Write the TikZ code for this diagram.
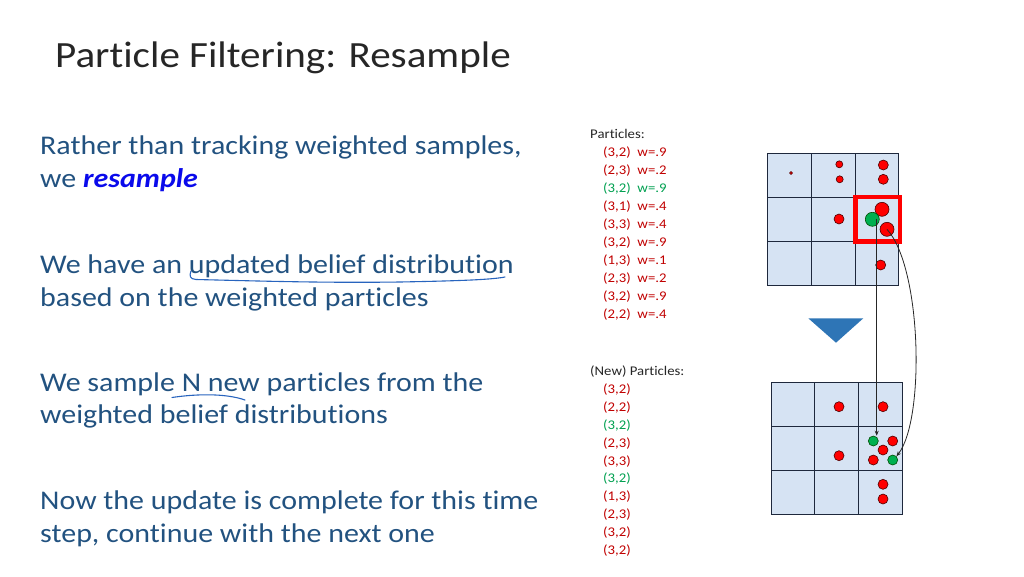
\documentclass[tikz,border=0pt]{standalone}
\usepackage{fontspec}
\setmainfont{Carlito}[FakeStretch=1.11,Ligatures=NoCommon]
\usetikzlibrary{arrows.meta}
\definecolor{bodyblue}{RGB}{34,82,128}
\definecolor{resblue}{RGB}{10,10,235}
\definecolor{darkred}{RGB}{192,0,0}
\definecolor{pgreen}{RGB}{0,176,80}
\definecolor{tgreen}{RGB}{0,160,80}
\definecolor{cellfill}{RGB}{214,227,243}
\definecolor{gridline}{RGB}{30,40,60}
\definecolor{triblue}{RGB}{46,117,182}
\definecolor{penblue}{RGB}{40,100,190}
\tikzset{
  body/.style={anchor=base west, inner sep=0pt, text=bodyblue, font=\fontsize{27}{32}\selectfont},
  small/.style={anchor=base west, inner sep=0pt, font=\fontsize{13.3}{15}\selectfont},
  grid cell/.style={draw=gridline, fill=cellfill, line width=0.9pt},
  rdot/.style={circle, draw=black!70!red, line width=0.6pt, fill=red, inner sep=0pt, minimum size=#1},
  gdot/.style={circle, draw=black!70!green, line width=0.6pt, fill=pgreen, inner sep=0pt, minimum size=#1},
  conn/.style={black!85, line width=0.8pt, -{Stealth[length=5pt,width=4pt]}},
  pen/.style={penblue, line width=1.1pt, line cap=round}
}
\begin{document}
\begin{tikzpicture}[x=1pt,y=-1pt]
\useasboundingbox (0,0) rectangle (1024,576);
% title
\node[anchor=base west, inner sep=0pt, font=\fontsize{37}{40}\selectfont, text=black!85] (title) at (55,67.7) {Particle Filtering: Resample};
% body
\node[body] (l1) at (40,154.3) {Rather than tracking weighted samples,};
\node[body] (l2) at (40,187.7) {we \textcolor{resblue}{\textbf{\textit{resample}}}};
\node[body] (l3) at (40,273.8) {We have an updated belief distribution};
\node[body] (l4) at (40,306.6) {based on the weighted particles};
\node[body] (l5) at (40,391) {We sample N new particles from the};
\node[body] (l6) at (40,423.6) {weighted belief distributions};
\node[body] (l7) at (40,509.3) {Now the update is complete for this time};
\node[body] (l8) at (40,542.7) {step, continue with the next one};
% handwritten underlines
\draw[pen] (191,271) .. controls (189,276) and (190,279) .. (196,279.5)
  .. controls (260,281) and (320,283) .. (400,282)
  .. controls (450,281) and (490,280) .. (505,277);
\draw[pen] (172,397.5) .. controls (195,394) and (225,393) .. (245,400);
% particle list
\node[small, text=black!85] (ph) at (590,138.5) {Particles:};
\foreach \t/\c [count=\i] in {{(3,2)\ \ w=.9}/darkred,{(2,3)\ \ w=.2}/darkred,{(3,2)\ \ w=.9}/tgreen,{(3,1)\ \ w=.4}/darkred,{(3,3)\ \ w=.4}/darkred,{(3,2)\ \ w=.9}/darkred,{(1,3)\ \ w=.1}/darkred,{(2,3)\ \ w=.2}/darkred,{(3,2)\ \ w=.9}/darkred,{(2,2)\ \ w=.4}/darkred}
  \node[small, text=\c] (p\i) at (603,138.5+18*\i) {\t};
\node[small, text=black!85] (nh) at (590,375.5) {(New) Particles:};
\foreach \t/\c [count=\i] in {{(3,2)}/darkred,{(2,2)}/darkred,{(3,2)}/tgreen,{(2,3)}/darkred,{(3,3)}/darkred,{(3,2)}/tgreen,{(1,3)}/darkred,{(2,3)}/darkred,{(3,2)}/darkred,{(3,2)}/darkred}
  \node[small, text=\c] (n\i) at (603,375.5+17.9*\i) {\t};
% top grid
\foreach \i in {0,1,2}{\foreach \j in {0,1,2}{
  \draw[grid cell] (767.5+43.8*\i,153+44*\j) rectangle ++(43.8,44);}}
\node[rdot=3pt] (a1) at (791,173) {};
\node[rdot=7pt] (a2) at (839.3,164.3) {};
\node[rdot=7pt] (a3) at (839.7,179.3) {};
\node[rdot=10pt] (a4) at (883.3,165) {};
\node[rdot=10pt] (a5) at (883.3,179.3) {};
\node[rdot=10pt] (a6) at (839,219) {};
\node[rdot=10pt] (a7) at (880.7,265) {};
\node[rdot=14pt] (a8) at (882,209.3) {};
\node[gdot=14pt] (a9) at (872.3,219.3) {};
\node[rdot=14pt] (a10) at (887,229.3) {};
\draw[red, line width=4.5pt] (855.5,197) rectangle (900,241.5);
% arrow triangle
\fill[triblue] (808.3,318.3) -- (863.3,318.3) -- (836,342.7) -- cycle;
% bottom grid
\foreach \i in {0,1,2}{\foreach \j in {0,1,2}{
  \draw[grid cell] (771+43.9*\i,382.7+43.8*\j) rectangle ++(43.9,43.8);}}
\node[rdot=10pt] (b1) at (839,406.7) {};
\node[rdot=10pt] (b2) at (883,406.7) {};
\node[gdot=10pt] (b3) at (873.3,441) {};
\node[rdot=10pt] (b4) at (892.7,441) {};
\node[rdot=10pt] (b5) at (883,450) {};
\node[rdot=10pt] (b6) at (839,455.7) {};
\node[rdot=10pt] (b7) at (873.3,460) {};
\node[gdot=10pt] (b8) at (892.7,460) {};
\node[rdot=10pt] (b9) at (883,484.3) {};
\node[rdot=10pt] (b10) at (883,499) {};
% connectors
\coordinate (s1) at ([xshift=4.4pt]a9.center);
\coordinate (e1) at ([xshift=3.4pt]b3.north);
\draw[conn] (s1) -- (s1 |- e1);
\draw[conn] (a10.center) .. controls (922,268) and (925,420) .. (b8.north east);
\end{tikzpicture}
\end{document}
